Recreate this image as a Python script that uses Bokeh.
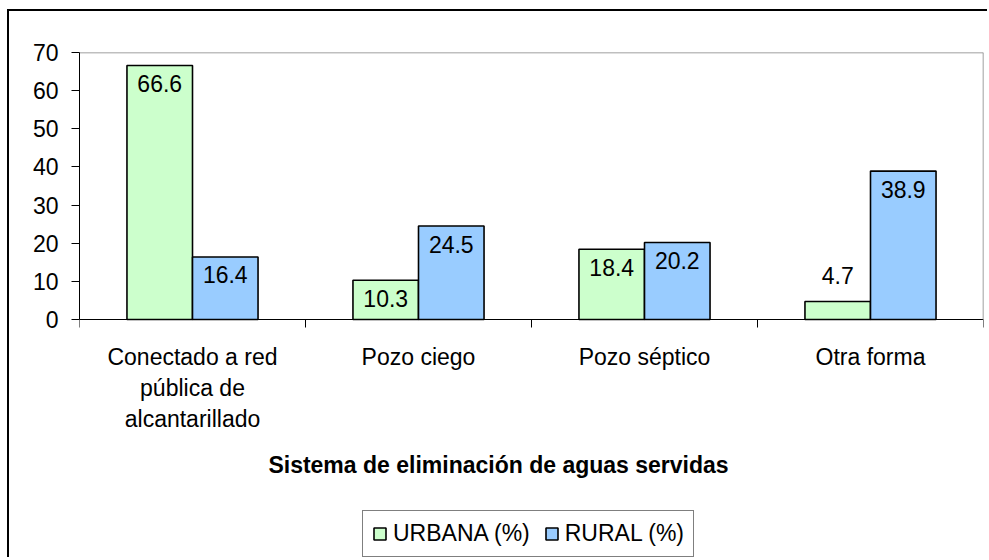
from bokeh.plotting import figure
from bokeh.models import (Range1d, FixedTicker, LinearAxis, Legend, LegendItem,
                          Label, ColumnDataSource)
from bokeh.embed import file_html
from bokeh.resources import INLINE
from bokeh.core.properties import value

# ---- data ----
categories = ["Conectado a red\npública de\nalcantarillado", "Pozo ciego",
              "Pozo séptico", "Otra forma"]
urbana = [66.6, 10.3, 18.4, 4.7]
rural = [16.4, 24.5, 20.2, 38.9]
series_names = ["URBANA (%)", "RURAL (%)"]
y_ticks = [0, 10, 20, 30, 40, 50, 60, 70]
x_title = "Sistema de eliminación de aguas servidas"

# ---- styling / layout constants ----
FONT = "Liberation Sans"
FS = "23px"
GREEN = "#CCFFCC"
BLUE = "#99CCFF"
GRAY = "#808080"

n = len(categories)
centers = [i + 0.5 for i in range(n)]
dodge = 0.145
bar_w = 0.29

PLOT_H = 267          # pixel height of the 0..70 value area
BELOW_ZERO = 240      # pixels of frame below the zero line
ymax = y_ticks[-1]
ymin = -BELOW_ZERO * ymax / PLOT_H

p = figure(width=980, height=548, output_backend="svg", toolbar_location=None,
           x_range=Range1d(0, n), y_range=Range1d(ymin, ymax),
           x_axis_type=None, y_axis_type=None,
           min_border_left=70, min_border_right=6, min_border_top=41,
           min_border_bottom=0)
p.styles = {"margin-left": "7px", "margin-top": "9px",
            "border-left": "2px solid black", "border-top": "2px solid black"}
p.outline_line_color = None
p.background_fill_color = "white"
p.border_fill_color = "white"

# y axis (only 0..70)
yax = LinearAxis(ticker=FixedTicker(ticks=y_ticks), bounds=(0, ymax))
yax.major_tick_out = 8
yax.major_tick_in = 0
yax.minor_tick_line_color = None
yax.major_label_standoff = 13
yax.major_label_text_font = FONT
yax.major_label_text_font_size = FS
yax.major_label_text_color = "black"
yax.axis_line_color = "black"
yax.major_tick_line_color = "black"
p.add_layout(yax, "left")

# gray plot-area border: right and top
rax = LinearAxis(ticker=FixedTicker(ticks=[]), bounds=(0, ymax), fixed_location=n)
rax.axis_line_color = GRAY
rax.axis_line_width = 1.5
rax.major_tick_line_color = None
rax.minor_tick_line_color = None
rax.major_label_text_font_size = "1px"
p.add_layout(rax, "right")

tax = LinearAxis(ticker=FixedTicker(ticks=[]), fixed_location=ymax)
tax.axis_line_color = GRAY
tax.axis_line_width = 1.5
tax.major_tick_line_color = None
tax.minor_tick_line_color = None
tax.major_label_text_font_size = "1px"
p.add_layout(tax, "above")

# x axis at zero with ticks at category boundaries
xax1 = LinearAxis(ticker=FixedTicker(ticks=list(range(n + 1))), fixed_location=0)
xax1.major_tick_out = 8
xax1.major_tick_in = 0
xax1.minor_tick_line_color = None
xax1.major_label_overrides = {i: "" for i in range(n + 1)}
xax1.major_label_text_font_size = "1px"
xax1.major_label_standoff = 0
xax1.axis_line_color = "black"
xax1.major_tick_line_color = "black"
p.add_layout(xax1, "below")

# category labels
xax2 = LinearAxis(ticker=FixedTicker(ticks=centers), fixed_location=0)
xax2.major_label_overrides = {c: name for c, name in zip(centers, categories)}
xax2.axis_line_color = None
xax2.major_tick_line_color = None
xax2.minor_tick_line_color = None
xax2.major_tick_out = 0
xax2.major_tick_in = 0
xax2.major_label_standoff = 24
xax2.major_label_text_font = FONT
xax2.major_label_text_font_size = FS
xax2.major_label_text_color = "black"
p.add_layout(xax2, "below")

# bars
xu = [c - dodge for c in centers]
xr = [c + dodge for c in centers]
ru = p.vbar(x=xu, top=urbana, width=bar_w, fill_color=GREEN, line_color="black",
            line_width=1.6)
rr = p.vbar(x=xr, top=rural, width=bar_w, fill_color=BLUE, line_color="black",
            line_width=1.6)

# data labels
def label_offsets(vals):
    return [18 if v > 8 else -26 for v in vals]

src = ColumnDataSource(dict(
    x=xu + xr,
    y=urbana + rural,
    t=[f"{v:.1f}" for v in urbana + rural],
    off=label_offsets(urbana + rural),
))
p.text(x="x", y="y", text="t", y_offset="off", source=src,
       text_font=value(FONT), text_font_size=FS, text_align="center",
       text_baseline="middle", text_color="black")

# axis title, centred on the whole chart
px_per_cat = 226.0
title_x = n / 2 - 33 / px_per_cat
title_y = -145 * ymax / PLOT_H
p.add_layout(Label(x=title_x, y=title_y, text=x_title, text_font=FONT,
                   text_font_size="23px", text_font_style="bold",
                   text_align="center", text_baseline="middle",
                   text_color="black"))

# legend
legend = Legend(items=[LegendItem(label=series_names[0], renderers=[ru]),
                       LegendItem(label=series_names[1], renderers=[rr])],
                orientation="horizontal", location=(283, 2))
legend.label_text_font = FONT
legend.label_text_font_size = FS
legend.label_text_color = "black"
legend.glyph_width = 15
legend.glyph_height = 15
legend.label_standoff = 6
legend.spacing = 14
legend.padding = 9
legend.margin = 0
legend.border_line_color = "black"
legend.border_line_width = 1
legend.background_fill_color = "white"
legend.background_fill_alpha = 1
p.add_layout(legend, "center")

open("out.html", "w").write(file_html(p, INLINE))
